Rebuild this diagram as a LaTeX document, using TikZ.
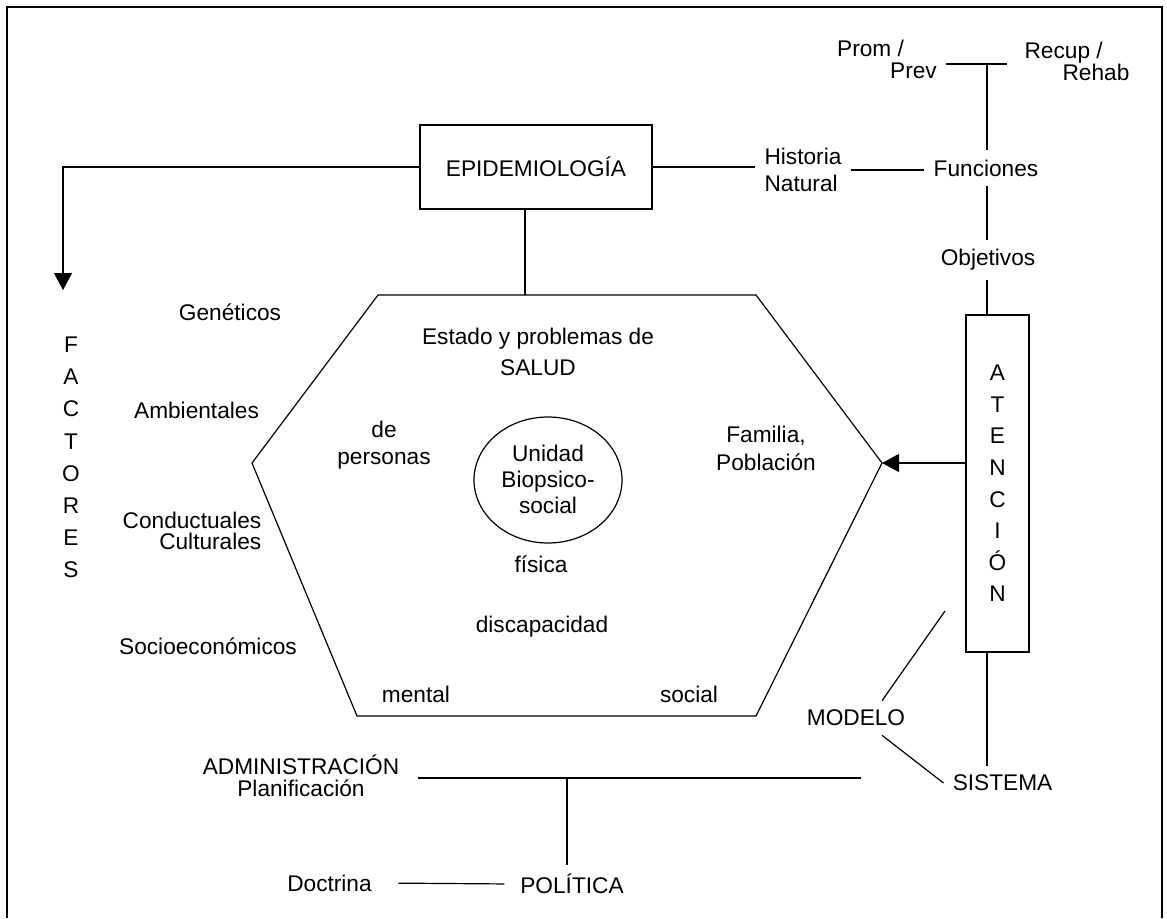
\documentclass[tikz,border=0pt]{standalone}
\usepackage{fontspec}
\setmainfont{Liberation Sans}
\usetikzlibrary{arrows.meta}
\tikzset{
  lbl/.style={inner sep=6.75pt, align=center},
  boxed/.style={draw, line width=0.9pt, inner sep=0pt, align=center},
  conn/.style={line width=0.9pt},
  tip/.style={-{Triangle[length=12.75pt,width=13.5pt]}},
}
\newcommand{\fs}[1]{\fontsize{17}{#1}\selectfont}
\begin{document}
\begin{tikzpicture}[x=0.75pt,y=-0.75pt,font=\fs{20}]
\useasboundingbox (0,0) rectangle (1167,918);
% marco
\draw[line width=1.1pt] (7,918) -- (7,7) -- (1162,7) -- (1162,918);
% hexagono de salud
\draw[conn] (378,295) -- (756,295) -- (882,463) coordinate (hexR) -- (756,716) -- (357,716) -- (252,463) -- cycle;
\coordinate (hexT) at (525,295);
\draw[conn] (548,480) ellipse [x radius=55.5pt, y radius=47.25pt];

\node[boxed, minimum width=174pt, minimum height=63pt] (epi) at (536,167) {EPIDEMIOLOGÍA};
\node[lbl, align=left, font=\fs{20.25}] (hist) at (803,170) {Historia\\Natural};
\node[lbl] (func) at (986,168) {Funciones};
\node[lbl] (obj) at (988,260) {Objetivos};
\node[lbl, align=left, font=\fs{16.5}] (prom) at (887,59) {Prom /\\\hspace{39.75pt}Prev};
\node[lbl, align=left, font=\fs{16.5}] (recup) at (1077,61) {Recup /\\\hspace{28.5pt}Rehab};
\node[boxed, minimum width=47.25pt, minimum height=252.75pt, font=\fs{23.7}] (atn) at (997.5,483.5) {A\\T\\E\\N\\C\\I\\Ó\\N};

% factores
\node[lbl, font=\fs{24.1}] (fac) at (71,457.5) {F\\A\\C\\T\\O\\R\\E\\S};
\node[lbl] (gen) at (230,312) {Genéticos};
\node[lbl] (amb) at (196.5,410) {Ambientales};
\node[lbl, align=right, font=\fs{15.75}] (cond) at (192,530.5) {Conductuales\\Culturales};
\node[lbl] (socio) at (208,646.5) {Socioeconómicos};

% dentro del hexagono
\node[lbl, font=\fs{22.9}] (estado) at (538,352) {Estado y problemas de\\SALUD};
\node[lbl] (pers) at (384,445) {de\\personas};
\node[lbl, font=\fs{19.5}] (unidad) at (548,479.5) {Unidad\\Biopsico-\\social};
\node[lbl, font=\fs{21}] (fam) at (766,448) {Familia,\\Población};
\node[lbl] (fisica) at (541,564) {física};
\node[lbl] (disc) at (542,627) {discapacidad};
\node[lbl] (mental) at (416,694) {mental};
\node[lbl] (social) at (689,694) {social};

% abajo
\node[lbl] (modelo) at (856,718) {MODELO};
\node[lbl] (sistema) at (1002.5,783) {SISTEMA};
\node[lbl, font=\fs{16.5}] (admin) at (301,776) {ADMINISTRACIÓN\\Planificación};
\node[lbl] (pol) at (572,884) {POLÍTICA};
\node[lbl] (doct) at (329.5,883) {Doctrina};

% conexiones
\coordinate (facTip) at (63,290);
\draw[conn, tip] (epi.west) -| (facTip);
\draw[conn] (epi.east) -- (epi.east -| hist.west);
\draw[conn] (hist.east) -- (hist.east -| func.west);
\coordinate (tJoin) at (987,64);
\draw[conn, shorten >=6.5pt] (prom.east |- tJoin) -- (recup.west |- tJoin);
\draw[conn] (func.north -| tJoin) -- (tJoin);
\draw[conn] (func.south -| tJoin) -- (obj.north -| tJoin);
\draw[conn] (obj.south -| tJoin) -- (atn.north -| tJoin);
\draw[conn, tip] (atn.west |- hexR) -- (hexR);
\draw[conn] (atn.south -| tJoin) -- (sistema.north -| tJoin);
\draw[conn] (epi.south -| hexT) -- (hexT);
\coordinate (mFree) at (945,611);
\draw[conn] ([xshift=19.5pt]modelo.north) -- (mFree);
\draw[conn] ([xshift=19.5pt]modelo.south) -- (sistema.west);
\coordinate (aEnd) at (861,778);
\coordinate (aJoin) at (567,778);
\draw[conn, shorten <=7pt] (admin.east |- aEnd) -- (aEnd);
\draw[conn] (aJoin) -- (pol.north -| aJoin);
\draw[conn, shorten <=13pt, shorten >=5pt] (doct.east) -- (pol.west);
\end{tikzpicture}
\end{document}
